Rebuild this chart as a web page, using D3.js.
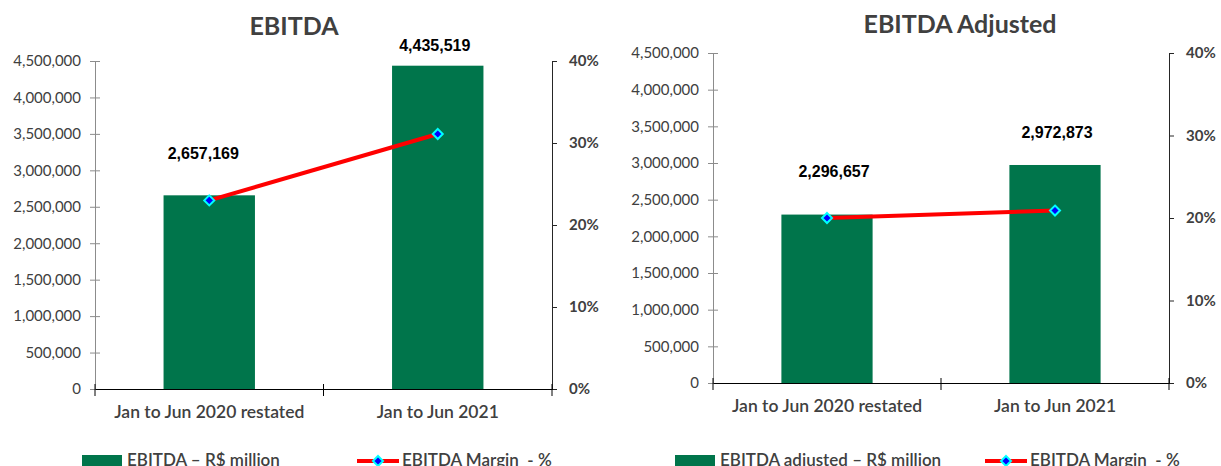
<!DOCTYPE html>
<html>
<head>
<meta charset="utf-8">
<script src="https://cdn.jsdelivr.net/npm/d3@7/dist/d3.min.js"></script>
<style>
  html, body { margin: 0; padding: 0; background: #fff; }
  svg { display: block; }
</style>
</head>
<body>
<svg id="chart" width="1221" height="466"></svg>
<script>
// ---------------- data ----------------
const categories = ["Jan to Jun 2020 restated", "Jan to Jun 2021"];
const ebitdaValues = [2657169, 4435519];
const ebitdaMargin = [23.0, 31.1];
const ebitdaAdjustedValues = [2296657, 2972873];
const ebitdaAdjustedMargin = [20.0, 20.9];
const valueTicks = [0, 500000, 1000000, 1500000, 2000000, 2500000, 3000000, 3500000, 4000000, 4500000];
const percentTicks = [0, 10, 20, 30, 40];
const chartTitles = ["EBITDA", "EBITDA Adjusted"];
const barLegendLabels = ["EBITDA \u2013 R$ million", "EBITDA adjusted  \u2013 R$ million"];
const lineLegendLabels = ["EBITDA Margin  - %", "EBITDA Margin  - %"];

// ---------------- layout ----------------
const panels = [
  { values: ebitdaValues, margins: ebitdaMargin, title: chartTitles[0],
    barLegend: barLegendLabels[0], lineLegend: lineLegendLabels[0],
    x0: 95, x1: 552, yTop: 61, yBottom: 389, titleX: 294, titleY: 35,
    labelDx: [-6, -3], labelDy: [-36, -15],
    legBarX: 82, legLineX: 357, legW: 42 },
  { values: ebitdaAdjustedValues, margins: ebitdaAdjustedMargin, title: chartTitles[1],
    barLegend: barLegendLabels[1], lineLegend: lineLegendLabels[1],
    x0: 713, x1: 1169, yTop: 53, yBottom: 383, titleX: 960, titleY: 33,
    labelDx: [7, 2], labelDy: [-38, -27],
    legBarX: 675, legLineX: 985, legW: 42 }
];

const textColor = "#404040";
const barColor = "#00754B";
const svg = d3.select("#chart");
const fmt = d3.format(",");

function diamond(g, cx, cy) {
  const s = 5;
  g.append("path")
    .attr("d", `M${cx},${cy - s}L${cx + s},${cy}L${cx},${cy + s}L${cx - s},${cy}Z`)
    .attr("fill", "#0000FF")
    .attr("stroke", "#00FFFF")
    .attr("stroke-width", 2);
}

panels.forEach(p => {
  const g = svg.append("g");
  const x = d3.scaleBand().domain(categories).range([p.x0, p.x1]).paddingInner(0).paddingOuter(0);
  const y = d3.scaleLinear().domain([0, 4500000]).range([p.yBottom, p.yTop]);
  const yP = d3.scaleLinear().domain([0, 40]).range([p.yBottom, p.yTop]);
  const barW = x.bandwidth() * 0.4;

  // title
  g.append("text")
    .attr("x", p.titleX).attr("y", p.titleY)
    .attr("text-anchor", "middle")
    .attr("font-family", "Lato, 'Open Sans', sans-serif")
    .attr("font-weight", 700)
    .attr("font-size", 25)
    .attr("fill", textColor)
    .text(p.title);

  // bars
  g.selectAll("rect.bar").data(p.values).enter().append("rect")
    .attr("class", "bar")
    .attr("x", (d, i) => x(categories[i]) + (x.bandwidth() - barW) / 2)
    .attr("y", d => y(d))
    .attr("width", barW)
    .attr("height", d => y(0) - y(d))
    .attr("fill", barColor);

  // left axis
  const la = g.append("g").attr("transform", `translate(${p.x0},0)`)
    .call(d3.axisLeft(y).tickValues(valueTicks).tickFormat(fmt).tickSizeInner(5).tickSizeOuter(0).tickPadding(9));
  la.select(".domain").attr("stroke", "#8C8C8C");
  la.selectAll(".tick line").attr("stroke", "#8C8C8C").attr("x1", 5);
  la.selectAll(".tick text")
    .attr("font-family", "Lato, sans-serif").attr("font-size", 15).attr("fill", textColor);

  // right axis
  const ra = g.append("g").attr("transform", `translate(${p.x1},0)`)
    .call(d3.axisRight(yP).tickValues(percentTicks).tickFormat(d => d + "%").tickSizeInner(5).tickSizeOuter(0).tickPadding(12));
  ra.select(".domain").attr("stroke", "#262626");
  ra.selectAll(".tick line").attr("stroke", "#262626");
  ra.selectAll(".tick text")
    .attr("font-family", "Lato, sans-serif").attr("font-weight", 700).attr("font-size", 15).attr("fill", textColor);

  // x axis
  const xa = g.append("g").attr("transform", `translate(0,${p.yBottom})`)
    .call(d3.axisBottom(x).tickSize(0).tickPadding(17));
  xa.select(".domain").attr("stroke", "#000").attr("stroke-width", 1);
  xa.selectAll(".tick text")
    .attr("font-family", "Lato, sans-serif").attr("font-weight", 600).attr("font-size", 17.5).attr("fill", textColor);
  const bounds = [x.range()[0]].concat(categories.slice(1).map(c => x(c)), [x.range()[1]]);
  xa.selectAll("line.bound").data(bounds).enter().append("line")
    .attr("class", "bound")
    .attr("x1", d => d).attr("x2", d => d)
    .attr("y1", -5).attr("y2", 7)
    .attr("stroke", "#000");

  // margin line
  const cx = (d, i) => x(categories[i]) + x.bandwidth() / 2;
  const line = d3.line().x((d, i) => cx(d, i)).y(d => yP(d));
  g.append("path").datum(p.margins)
    .attr("d", line)
    .attr("fill", "none")
    .attr("stroke", "#FF0000")
    .attr("stroke-width", 4);
  p.margins.forEach((m, i) => diamond(g, cx(m, i), yP(m)));

  // data labels
  g.selectAll("text.dl").data(p.values).enter().append("text")
    .attr("class", "dl")
    .attr("x", (d, i) => x(categories[i]) + x.bandwidth() / 2 + p.labelDx[i])
    .attr("y", (d, i) => y(d) + p.labelDy[i])
    .attr("text-anchor", "middle")
    .attr("font-family", "'Liberation Sans', Arial, sans-serif")
    .attr("font-weight", 700)
    .attr("font-size", 16)
    .attr("fill", "#000")
    .text(d => fmt(d));

  // legend
  const ly = 454;
  g.append("rect").attr("x", p.legBarX).attr("y", ly + 1).attr("width", 40).attr("height", 14).attr("fill", barColor);
  g.append("text").attr("x", p.legBarX + 45).attr("y", ly + 12)
    .attr("font-family", "Lato, sans-serif").attr("font-weight", 600).attr("font-size", 17).attr("fill", textColor)
    .text(p.barLegend);
  g.append("line").attr("x1", p.legLineX).attr("x2", p.legLineX + p.legW)
    .attr("y1", 461).attr("y2", 461).attr("stroke", "#FF0000").attr("stroke-width", 4);
  diamond(g, p.legLineX + p.legW / 2, 461);
  g.append("text").attr("x", p.legLineX + p.legW + 3).attr("y", ly + 12)
    .attr("font-family", "Lato, sans-serif").attr("font-weight", 600).attr("font-size", 17).attr("fill", textColor)
    .attr("xml:space", "preserve")
    .style("white-space", "pre")
    .text(p.lineLegend);
});
</script>
</body>
</html>
